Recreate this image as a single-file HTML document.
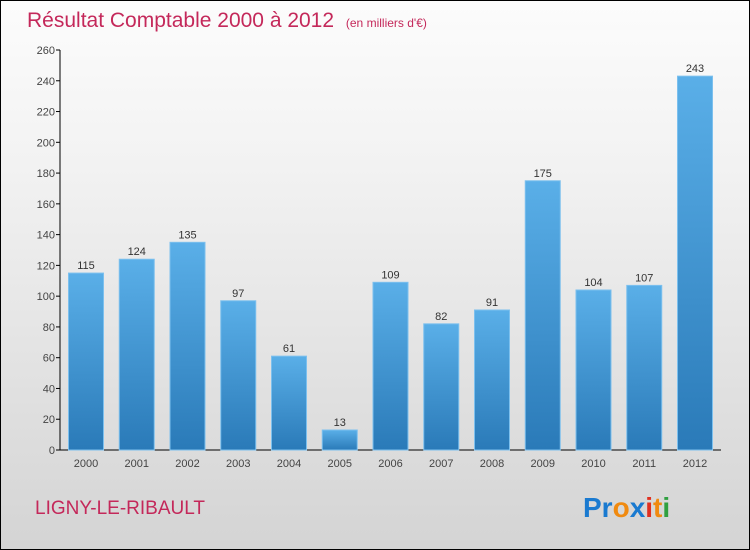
<!DOCTYPE html>
<html><head><meta charset="utf-8"><style>
body{margin:0}
#c{width:748px;height:548px;border:1px solid #000;position:relative;background:linear-gradient(#fcfcfc,#f2f2f2 30%,#d4d4d4);font-family:"Liberation Sans",sans-serif;overflow:hidden}
</style></head><body>
<div id="c">
<svg id="s" width="748" height="548">
<defs><linearGradient id="g" x1="0" y1="0" x2="0" y2="1"><stop offset="0" stop-color="#5aafe8"/><stop offset="1" stop-color="#2a7ab8"/></linearGradient></defs>
<text x="26" y="26" font-size="21" fill="#c4285a">Résultat Comptable 2000 à 2012 <tspan font-size="12" dx="6">(en milliers d'€)</tspan></text>
<text x="34" y="513" font-size="19" fill="#c4285a">LIGNY-LE-RIBAULT</text>
<text x="582" y="516" font-size="28" font-weight="bold"><tspan fill="#1a7ad0">Pr</tspan><tspan fill="#f08a10">o</tspan><tspan fill="#1a7ad0">x</tspan><tspan fill="#e03020">i</tspan><tspan fill="#f08a10">t</tspan><tspan fill="#30a040">i</tspan></text>
<g id="plot"></g>
</svg></div>
<script>
const years=["2000","2001","2002","2003","2004","2005","2006","2007","2008","2009","2010","2011","2012"];
const values=[115,124,135,97,61,13,109,82,91,175,104,107,243];
const ticks=[0,20,40,60,80,100,120,140,160,180,200,220,240,260];
const ns="http://www.w3.org/2000/svg",p=document.getElementById('plot');
const y=v=>449-v*400/260, x=i=>85+i*50.75;
function mk(t,a,txt){const e=document.createElementNS(ns,t);for(const k in a)e.setAttribute(k,a[k]);if(txt!=null)e.textContent=txt;p.appendChild(e);return e;}
let e=mk('line',{x1:59,y1:49,x2:59,y2:449,stroke:'#000'});


e=mk('line',{x1:59,y1:449,x2:720,y2:449,stroke:'#000'});


ticks.forEach(t=>{
 e=mk('line',{x1:55,y1:y(t),x2:59,y2:y(t),stroke:'#000'});
 
 
 e=mk('text',{x:54,y:y(t)+4,'font-size':11,fill:'#444','text-anchor':'end'},t);
 
 
});
values.forEach((v,i)=>{
 e=mk('rect',{x:x(i)-17.5,y:y(v),width:35,height:449-y(v),fill:'url(#g)',stroke:'#7cc0ee','stroke-width':1});
 
 
 e=mk('text',{x:x(i),y:y(v)-4,'font-size':11,fill:'#333','text-anchor':'middle'},v);
 
 
 e=mk('text',{x:x(i),y:466,'font-size':11,fill:'#444','text-anchor':'middle'},years[i]);
 
 
});
</script>
</body></html>
